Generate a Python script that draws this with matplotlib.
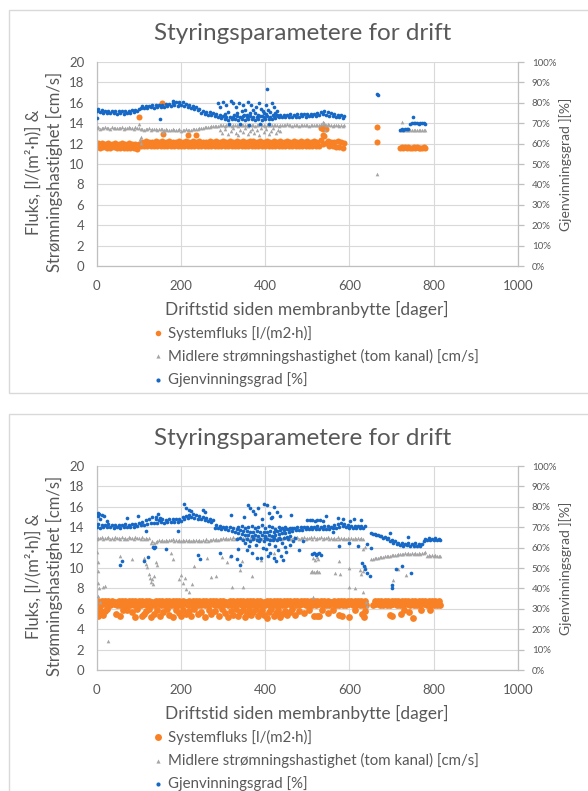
import matplotlib
matplotlib.use("Agg")
import matplotlib.pyplot as plt
from matplotlib.lines import Line2D
from matplotlib.patches import Rectangle
from matplotlib.ticker import PercentFormatter

nan = float("nan")

# ---------------------------------------------------------------- text
TITLE = "Styringsparametere for drift"
XLABEL = "Driftstid siden membranbytte [dager]"
YLABEL_LEFT = "Fluks, [l/(m²·h)] &\nStrømningshastighet [cm/s]"
YLABEL_RIGHT = "Gjenvinningsgrad ][%]"
LEGEND_LABELS = ["Systemfluks [l/(m2·h)]",
                 "Midlere strømningshastighet (tom kanal) [cm/s]",
                 "Gjenvinningsgrad [%]"]
X_TICKS = [0, 200, 400, 600, 800, 1000]
Y_TICKS = [0, 2, 4, 6, 8, 10, 12, 14, 16, 18, 20]
PCT_TICKS = [0, 10, 20, 30, 40, 50, 60, 70, 80, 90, 100]

# ---------------------------------------------------------------- panel 1 data
days1_a = [0, 8, 16, 24, 32, 40, 48, 56, 64, 72,
           80, 88, 96, 104, 112, 120, 128, 136, 144, 152,
           160, 168, 176, 184, 192, 200, 208, 216, 224, 232,
           240, 248, 256, 264, 272, 280, 288, 296, 304, 312,
           320, 328, 336, 344, 352, 360, 368, 376, 384, 392,
           400, 408, 416, 424, 432, 440, 448, 456, 464, 472,
           480, 488, 496, 504, 512, 520, 528, 536, 544, 552,
           560, 568, 576, 584]
days1_b = [4, 12, 20, 28, 36, 44, 52, 60, 68, 76,
           84, 92, 100, 108, 116, 124, 132, 140, 148, 156,
           164, 172, 180, 188, 196, 204, 212, 220, 228, 236,
           244, 252, 260, 268, 276, 284, 292, 300, 308, 316,
           324, 332, 340, 348, 356, 364, 372, 380, 388, 396,
           404, 412, 420, 428, 436, 444, 452, 460, 468, 476,
           484, 492, 500, 508, 516, 524, 532, 540, 548, 556,
           564, 572, 580, 588]
days1_late = [720, 724, 728, 732, 736, 740, 744, 748, 752, 756,
              760, 764, 768, 772, 776, 780]

flux1_a = [11.62, 11.58, 11.66, 11.60, 11.57, 11.63, 11.59, 11.55, 11.61, 11.57,
           11.53, 11.58, 11.50, 11.78, 11.74, 11.80, 11.76, 11.72, 11.79, 11.75,
           11.81, 11.77, 11.73, 11.80, 11.76, 11.74, 11.79, 11.75, 11.72, 11.78,
           11.80, 11.76, 11.73, 11.79, 11.75, 11.77, 11.74, 11.80, 11.76, 11.72,
           11.78, 11.75, 11.81, 11.77, 11.73, 11.79, 11.76, 11.74, 11.80, 11.75,
           11.72, 11.78, 11.76, 11.81, 11.74, 11.77, 11.73, 11.79, 11.75, 11.72,
           11.78, 11.76, 11.80, 11.74, 11.77, 11.73, 11.79, 11.95, 12.05, 11.76,
           11.74, 11.70, 11.66, 11.58]
flux1_b = [12.02, 12.06, 11.98, 12.04, 12.00, 12.05, 11.97, 12.03, 11.99, 12.01,
           11.96, 11.98, 11.93, 12.18, 12.22, 12.15, 12.20, 12.24, 12.17, 12.21,
           12.19, 12.23, 12.16, 12.20, 12.25, 12.18, 12.22, 12.15, 12.21, 12.19,
           12.24, 12.17, 12.20, 12.23, 12.16, 12.22, 12.19, 12.25, 12.18, 12.21,
           12.17, 12.23, 12.20, 12.26, 12.18, 12.21, 12.24, 12.16, 12.22, 12.19,
           12.25, 12.18, 12.21, 12.16, 12.23, 12.20, 12.24, 12.17, 12.22, 12.19,
           12.21, 12.16, 12.23, 12.19, 12.24, 12.18, 12.40, 12.75, 12.30, 12.20,
           12.18, 12.22, 12.15, 12.05]
flux1_late = [11.58, 11.64, 11.55, 11.62, 11.57, 11.66, 11.60, 11.54, 11.63, 11.58,
              11.65, 11.56, 11.61, 11.59, 11.64, 11.57]
flux1_other = [(100, 14.6), (155, 15.95), (157, 12.9), (216, 12.85), (236, 12.8),
               (532, 13.55), (536, 13.4), (540, 13.6), (544, 13.45), (538, 12.85),
               (666, 13.6), (666, 12.2)]

vel1_a = [13.52, 13.48, 13.55, 13.50, 13.46, 13.53, 13.49, 13.51, 13.47, 13.54,
          13.50, 13.46, 13.52, 13.42, 13.38, 13.41, 13.36, 13.40, 13.37, 13.39,
          13.33, 13.30, 13.34, 13.29, 13.32, 13.28, 13.31, 13.33, 13.36, 13.40,
          13.46, 13.52, 13.58, 13.63, 13.68, 13.72, 13.74, 13.78, 13.75, 13.79,
          13.76, 13.80, 13.77, 13.81, 13.78, 13.75, 13.80, 13.77, 13.82, 13.79,
          13.76, 13.81, 13.78, 13.80, 13.76, 13.79, 13.82, 13.78, 13.75, 13.80,
          13.77, 13.81, 13.78, 13.76, 13.80, 13.78, 13.82, 13.90, 13.85, 13.79,
          13.77, 13.80, 13.76, 13.74]
vel1_b = [13.58, 13.55, 13.60, 13.56, 13.59, 13.54, 13.57, 13.60, 13.55, 13.58,
          13.56, 13.59, 13.54, 13.48, 13.45, 13.49, 13.46, 13.44, 13.48, 13.45,
          13.40, 13.38, 13.41, 13.37, 13.39, 13.36, 13.40, 13.38, 13.42, 13.46,
          13.50, 13.56, 13.62, 13.67, 13.71, 13.76, 13.80, 13.83, 13.81, 13.85,
          13.82, 13.86, 13.83, 13.87, 13.84, 13.81, 13.86, 13.83, 13.88, 13.85,
          13.83, 13.87, 13.84, 13.86, 13.82, 13.85, 13.88, 13.84, 13.81, 13.86,
          13.83, 13.87, 13.84, 13.82, 13.86, 13.84, 13.95, 14.00, 13.88, 13.85,
          13.83, 13.86, 13.82, 13.80]
vel1_late = [13.32, 13.36, 13.30, 13.38, 13.34, 13.31, 13.37, 13.33, 13.35, 13.30,
             13.36, 13.32, 13.38, 13.34, 13.31, 13.35]
vel1_other = [(100, 13.95), (102, 12.45), (104, 12.10), (106, 12.6), (157, 13.1),
              (292, 13.3), (298, 13.0), (305, 13.45), (311, 12.9), (318, 13.2),
              (324, 13.5), (330, 13.05), (336, 12.85), (341, 13.35), (347, 13.15),
              (352, 13.55), (358, 12.95), (363, 13.25), (369, 13.45), (374, 13.0),
              (380, 13.3), (386, 12.8), (391, 13.5), (397, 13.1), (402, 13.4),
              (408, 12.9), (414, 13.25), (419, 13.55), (425, 13.0), (430, 13.35),
              (436, 13.2), (538, 14.15), (542, 13.3), (666, 9.0), (724, 14.1)]

rec1_a = [75.8, 75.5, 75.2, 75.0, 74.9, 74.8, 74.7, 74.8, 74.7, 74.9,
          75.2, 75.6, 76.0, 77.4, 77.6, 77.5, 77.7, 77.6, 77.8, 77.7,
          78.0, 78.3, 78.6, 78.9, 78.5, 78.8, 78.4, 78.0, 77.5, 77.0,
          76.5, 74.8, 74.5, 74.2, 73.8, 73.5, 73.0, 72.4, 72.0, 71.8,
          71.9, 72.1, 71.7, 72.0, 71.8, 72.2, 71.9, 71.6, 72.0, 71.8,
          72.1, 71.9, 72.3, 72.6, 72.8, 73.0, 72.9, 73.1, 73.0, 73.2,
          73.1, 73.3, 73.2, 73.4, 73.3, 73.5, 74.0, 74.5, 74.2, 73.6,
          73.3, 73.0, 72.8, 72.5]
rec1_b = [76.8, 76.5, 76.2, 76.0, 75.9, 75.8, 75.8, 75.9, 75.8, 76.0,
          76.3, 76.7, 77.0, 78.4, 78.6, 78.5, 78.7, 78.8, 79.0, 78.9,
          79.3, 79.6, 80.0, 80.3, 79.9, 80.2, 79.6, 79.1, 78.6, 78.0,
          77.2, 76.0, 75.6, 75.3, 75.0, 74.6, 74.2, 73.6, 73.2, 73.0,
          73.2, 73.4, 73.0, 73.3, 73.1, 73.5, 73.2, 72.9, 73.3, 73.1,
          73.4, 73.2, 73.6, 73.9, 74.0, 74.2, 74.1, 74.3, 74.2, 74.4,
          74.3, 74.5, 74.4, 74.6, 74.5, 74.8, 75.3, 75.8, 75.4, 74.8,
          74.4, 74.1, 73.8, 73.4]
rec1_late = [66.8, 67.0, 66.7, 67.2, 67.0, 67.4, 69.8, 70.1, 69.9, 70.2,
             70.0, 69.8, 70.1, 69.9, 70.0, 69.7]
rec1_other = [(0, 72.5), (151, 72.0), (180, 80.8), (196, 80.6), (288, 79.8),
              (292, 78.0), (300, 80.5), (304, 74.5), (308, 79.0), (312, 75.5),
              (315, 69.5), (319, 81.0), (323, 79.8), (327, 74.0), (331, 78.0),
              (333, 75.0), (337, 80.0), (340, 69.8), (344, 75.8), (347, 78.8),
              (350, 74.2), (353, 76.5), (356, 73.8), (359, 80.5), (362, 69.0),
              (365, 75.0), (367, 79.0), (371, 76.5), (375, 74.8), (379, 78.0),
              (382, 74.0), (385, 80.0), (388, 69.5), (391, 77.2), (393, 73.6),
              (395, 75.8), (398, 75.2), (401, 79.0), (403, 74.6), (405, 87.0),
              (407, 76.5), (410, 69.8), (412, 75.4), (415, 79.8), (418, 73.9),
              (421, 78.0), (424, 74.8), (427, 75.8), (430, 73.7), (666, 84.5),
              (668, 84.0), (750, 72.8)]

# ---------------------------------------------------------------- panel 2 data
days2_a = [0, 8, 16, 24, 32, 40, 48, 56, 64, 72,
           80, 88, 96, 104, 112, 120, 128, 136, 144, 152,
           160, 168, 176, 184, 192, 200, 208, 216, 224, 232,
           240, 248, 256, 264, 272, 280, 288, 296, 304, 312,
           320, 328, 336, 344, 352, 360, 368, 376, 384, 392,
           400, 408, 416, 424, 432, 440, 448, 456, 464, 472,
           480, 488, 496, 504, 512, 520, 528, 536, 544, 552,
           560, 568, 576, 584, 592, 600, 608, 616, 624, 632,
           640, 648, 656, 664, 672, 680, 688, 696, 704, 712,
           720, 728, 736, 744, 752, 760, 768, 776, 784, 792,
           800, 808, 816]
days2_b = [4, 12, 20, 28, 36, 44, 52, 60, 68, 76,
           84, 92, 100, 108, 116, 124, 132, 140, 148, 156,
           164, 172, 180, 188, 196, 204, 212, 220, 228, 236,
           244, 252, 260, 268, 276, 284, 292, 300, 308, 316,
           324, 332, 340, 348, 356, 364, 372, 380, 388, 396,
           404, 412, 420, 428, 436, 444, 452, 460, 468, 476,
           484, 492, 500, 508, 516, 524, 532, 540, 548, 556,
           564, 572, 580, 588, 596, 604, 612, 620, 628, 636,
           644, 652, 660, 668, 676, 684, 692, 700, 708, 716,
           724, 732, 740, 748, 756, 764, 772, 780, 788, 796,
           804, 812]

flux2_a = [6.42, 6.38, 6.45, 6.40, 6.36, 6.44, 6.39, 6.41, 6.37, 6.43,
           6.40, 6.35, 6.42, 6.38, 6.44, 6.36, 6.41, 6.39, 6.43, 6.37,
           6.40, 6.45, 6.38, 6.42, 6.36, 6.41, 6.44, 6.39, 6.37, 6.43,
           6.40, 6.36, 6.42, 6.38, 6.45, 6.39, 6.41, 6.37, 6.43, 6.35,
           6.41, 6.38, 6.44, 6.36, 6.40, 6.42, 6.37, 6.43, 6.39, 6.35,
           6.41, 6.38, 6.44, 6.40, 6.36, 6.42, 6.39, 6.43, 6.37, 6.41,
           6.38, 6.44, 6.40, 6.36, 6.42, 6.39, 6.43, 6.37, 6.41, 6.38,
           6.44, 6.40, 6.36, 6.42, 6.39, 6.43, 6.37, 6.41, 6.38, 6.35,
           6.40, nan, 6.38, 6.44, 6.40, 6.36, 6.42, 6.39, 6.43, 6.37,
           6.41, 6.38, 6.44, 6.40, 6.36, 6.42, 6.39, 6.43, 6.37, 6.41,
           6.38, 6.42, 6.36]
flux2_b = [6.78, 6.72, 6.80, 6.74, 6.77, 6.71, 6.79, 6.75, 6.73, 6.78,
           6.74, 6.80, 6.72, 6.77, 6.75, 6.79, 6.71, 6.76, 6.78, 6.73,
           6.77, 6.74, 6.80, 6.72, 6.78, 6.75, 6.71, 6.79, 6.74, 6.76,
           6.73, 6.78, 6.75, 6.80, 6.72, 6.77, 6.74, 6.79, 6.71, 6.76,
           6.78, 6.73, 6.77, 6.75, 6.80, 6.72, 6.76, 6.79, 6.74, 6.71,
           6.77, 6.75, 6.80, 6.73, 6.78, 6.72, 6.76, 6.79, 6.74, 6.77,
           6.73, 6.78, 6.75, 6.80, 6.72, 6.77, 6.74, 6.79, 6.75, 6.71,
           6.78, 6.74, 6.77, 6.72, 6.79, 6.75, 6.73, 6.78, 6.74, 6.76,
           nan, nan, 6.72, 6.78, 6.74, 6.80, 6.75, 6.77, 6.73, 6.79,
           6.75, 6.72, 6.78, 6.74, 6.80, 6.76, 6.73, 6.79, 6.75, 6.77,
           6.74, 6.78]
flux2_other = [(3, 5.25), (5, 5.6), (8, 5.9), (14, 5.4), (20, 5.8), (25, 6.0),
               (45, 5.5), (55, 5.3), (62, 5.85), (72, 5.9), (83, 5.65), (90, 5.2),
               (96, 5.95), (108, 5.3), (113, 5.5), (118, 5.8), (124, 6.0), (130, 5.2),
               (136, 5.45), (142, 5.9), (150, 5.3), (158, 5.7), (166, 5.95), (172, 5.4),
               (180, 5.2), (188, 5.85), (195, 5.6), (200, 5.3), (206, 5.9), (212, 5.5),
               (218, 5.75), (224, 5.25), (232, 5.95), (240, 5.45), (248, 5.7), (256, 5.2),
               (266, 5.9), (272, 5.5), (280, 5.8), (290, 5.3), (297, 5.95), (305, 5.6),
               (312, 5.2), (318, 5.75), (324, 5.4), (330, 5.95), (336, 5.3), (341, 5.65),
               (347, 5.85), (352, 5.2), (357, 5.5), (362, 5.9), (367, 5.35), (372, 5.7),
               (378, 6.0), (383, 5.25), (388, 5.55), (393, 5.85), (398, 5.4), (404, 5.1),
               (409, 5.7), (414, 5.95), (420, 5.3), (425, 5.6), (430, 5.85), (436, 5.2),
               (441, 5.5), (447, 5.8), (452, 5.35), (458, 5.65), (464, 5.95), (470, 5.4),
               (480, 5.8), (492, 5.55), (505, 5.9), (515, 5.3), (522, 5.25), (528, 5.3),
               (535, 5.85), (548, 5.6), (560, 5.9), (576, 5.4), (582, 5.3), (600, 5.2),
               (612, 5.9), (630, 5.5), (634, 5.2), (638, 5.8), (696, 5.4), (700, 5.3),
               (722, 5.45), (730, 5.85), (742, 5.7), (750, 5.1), (770, 5.9), (790, 5.85)]

vel2_a = [12.85, 12.90, 12.86, 12.92, 12.88, 12.84, 12.91, 12.87, 12.89, 12.85,
          12.90, 12.86, 12.92, 12.84, 12.88, 12.82, 12.50, 12.45, 12.62, 12.65,
          12.68, 12.64, 12.70, 12.66, 12.62, 12.69, 12.65, 12.61, 12.67, 12.63,
          12.66, 12.62, 12.68, 12.64, 12.70, 12.72, 12.76, 12.80, 12.84, 12.86,
          12.88, 12.85, 12.90, 12.87, 12.92, 12.86, 12.89, 12.91, 12.85, 12.88,
          12.92, 12.87, 12.90, 12.86, 12.91, 12.88, 12.93, 12.85, 12.89, 12.92,
          12.87, 12.90, 12.86, 12.91, 12.88, 12.85, 12.90, 12.87, 12.92, 12.86,
          12.84, 12.88, 12.82, 12.86, 12.83, 12.87, 12.81, 12.85, 12.82, 12.80,
          nan, nan, 10.92, 10.98, 11.05, 11.10, 11.16, 11.22, 11.28, 11.32,
          11.35, 11.38, 11.36, 11.40, 11.37, 11.42, 11.39, 11.45, 11.20, 11.15,
          11.18, 11.14, 11.16]
vel2_b = [12.98, 13.02, 12.97, 13.03, 12.99, 13.01, 12.96, 13.02, 12.98, 13.00,
          12.97, 13.03, 12.99, 13.01, 12.96, 12.98, 12.60, 12.58, 12.74, 12.76,
          12.79, 12.75, 12.80, 12.77, 12.74, 12.78, 12.76, 12.73, 12.79, 12.75,
          12.78, 12.74, 12.80, 12.76, 12.82, 12.85, 12.88, 12.92, 12.95, 12.98,
          13.00, 12.97, 13.02, 12.99, 13.03, 12.98, 13.01, 13.04, 12.97, 13.00,
          13.03, 12.99, 13.02, 12.98, 13.04, 13.00, 13.05, 12.97, 13.01, 13.03,
          12.99, 13.02, 12.98, 13.03, 13.00, 12.97, 13.02, 12.99, 13.04, 12.98,
          12.96, 13.00, 12.94, 12.98, 12.95, 12.99, 12.93, 12.97, 12.94, nan,
          nan, 10.85, 10.95, 11.02, 11.08, 11.14, 11.20, 11.26, 11.32, 11.38,
          11.42, 11.46, 11.44, 11.48, 11.45, 11.50, 11.47, 11.52, 11.28, 11.24,
          11.26, 11.22]
vel2_other = [(0, 11.6), (2, 10.6), (3, 9.7), (4, 8.5), (6, 8.0), (3, 7.3), (8, 6.7),
              (14, 8.1), (19, 8.2), (28, 2.8), (55, 11.2), (83, 10.9), (112, 11.0),
              (116, 10.4), (120, 10.1), (124, 9.4), (127, 9.0), (129, 8.6), (131, 8.9),
              (134, 8.4), (136, 9.2), (140, 10.6), (142, 10.3), (176, 11.5), (180, 10.9),
              (195, 8.9), (200, 9.3), (206, 8.5), (210, 9.0), (213, 7.9), (220, 7.6),
              (226, 8.4), (232, 10.2), (262, 11.0), (272, 9.1), (284, 9.2), (298, 11.1),
              (310, 10.6), (316, 11.2), (322, 8.1), (339, 9.8), (346, 10.7), (348, 8.1),
              (368, 9.2), (390, 10.8), (420, 11.5), (508, 9.65), (512, 9.7), (516, 9.6),
              (520, 9.65), (524, 9.7), (528, 9.6), (514, 11.0), (518, 10.8), (522, 11.1),
              (526, 10.9), (514, 7.15), (565, 9.5), (576, 10.7), (578, 9.4), (600, 10.0),
              (600, 8.1), (612, 8.0), (625, 9.8), (628, 9.4), (632, 9.7), (636, 10.2),
              (632, 7.6), (640, 6.7), (642, 6.3), (633, 11.9), (636, 12.1), (704, 8.8),
              (716, 9.9), (735, 9.3)]

rec2_a = [70.2, 69.8, 70.0, 69.9, 70.1, 69.7, 70.0, 69.8, 70.2, 69.9,
          70.1, 70.3, 70.6, 70.9, 71.3, 71.8, 72.0, 72.3, 72.1, 72.4,
          72.3, 72.5, 72.4, 72.7, 72.6, 73.2, 74.0, 74.6, 74.9, 74.5,
          74.2, 73.8, 73.3, 72.9, 72.4, 69.8, 69.4, 69.0, 68.9, 68.6,
          68.2, 67.6, 67.0, 66.5, 66.2, 66.0, 65.8, 66.1, 65.7, 66.0,
          65.8, 66.1, 65.9, 66.3, 66.6, 67.0, 67.4, 67.8, 68.1, 68.4,
          68.6, 68.8, 69.0, 68.9, 69.1, 69.0, 69.2, 69.1, 69.3, 69.2,
          69.4, 69.8, 70.2, 70.4, 70.1, 69.7, 69.6, 69.5, 69.7, 69.4,
          nan, nan, 66.6, 66.0, 65.5, 64.9, 64.3, 63.4, 62.3, 61.6,
          61.3, 61.0, 61.2, 60.8, 61.0, 60.6, 60.9, 63.4, 63.8, 63.6,
          63.8, 63.5, 63.7]
rec2_b = [71.4, 71.1, 71.3, 71.5, 71.2, 71.0, 71.3, 71.1, 71.4, 71.2,
          71.5, 71.8, 72.2, 72.6, 73.4, 74.2, 74.8, 74.0, 73.6, 73.8,
          73.7, 73.9, 74.0, 74.2, 74.1, 74.8, 75.6, 76.2, 76.6, 75.8,
          75.4, 75.0, 74.6, 74.2, 73.6, 71.0, 70.6, 70.3, 70.1, 69.9,
          69.5, 69.0, 68.6, 68.2, 67.9, 67.8, 67.6, 67.9, 67.5, 67.8,
          67.6, 67.9, 67.7, 68.1, 68.4, 68.7, 69.1, 69.4, 69.7, 69.9,
          70.0, 70.2, 70.1, 70.3, 70.2, 70.4, 70.3, 70.5, 70.4, 70.3,
          71.0, 71.6, 72.0, 71.8, 71.3, 70.8, 70.6, 70.5, 70.7, 70.4,
          nan, 67.2, 66.9, 66.3, 65.8, 65.3, 64.7, 63.9, 63.0, 62.4,
          62.2, 62.0, 62.3, 61.9, 62.1, 61.8, 62.0, 64.4, 64.6, 64.3,
          64.5, 64.2]
rec2_other = [(2, 77.0), (4, 75.5), (6, 76.5), (9, 74.0), (12, 76.0), (18, 75.5),
              (24, 73.0), (55, 51.5), (60, 53.5), (73, 74.5), (97, 75.5), (113, 53.5),
              (118, 68.0), (121, 55.5), (134, 60.5), (136, 60.0), (138, 60.5), (140, 75.0),
              (146, 76.5), (150, 74.5), (164, 59.5), (193, 68.0), (207, 81.5), (212, 79.5),
              (218, 78.5), (225, 78.0), (240, 56.5), (246, 54.5), (252, 78.5), (258, 77.5),
              (292, 57.5), (318, 56.0), (318, 76.0), (333, 54.5), (335, 59.5), (340, 51.5),
              (349, 75.0), (352, 62.5), (356, 59.0), (360, 81.0), (362, 61.0), (365, 79.5),
              (368, 57.5), (370, 78.0), (372, 64.0), (375, 76.5), (378, 61.5), (380, 55.0),
              (384, 79.5), (386, 63.0), (389, 55.0), (392, 74.0), (395, 60.0), (398, 81.5),
              (400, 64.5), (402, 59.5), (404, 81.0), (406, 56.0), (408, 77.0), (410, 62.0),
              (412, 57.5), (414, 74.5), (416, 75.0), (418, 63.5), (420, 55.0), (422, 80.0),
              (424, 61.0), (426, 53.5), (428, 77.5), (430, 59.0), (432, 64.5), (435, 75.5),
              (438, 56.0), (440, 62.5), (443, 54.0), (446, 60.5), (450, 58.0), (454, 64.0),
              (458, 61.5), (462, 76.0), (466, 63.0), (470, 64.5), (480, 59.0), (490, 63.0),
              (500, 73.5), (506, 73.75), (512, 73.5), (518, 73.25), (524, 73.5), (530, 73.5),
              (536, 73.25), (512, 57.0), (516, 57.5), (520, 56.5), (524, 57.0), (528, 57.5),
              (532, 56.5), (545, 75.5), (560, 67.5), (573, 74.5), (576, 61.0), (585, 74.0),
              (600, 62.5), (602, 73.0), (610, 74.0), (620, 61.0), (628, 73.5), (630, 52.5),
              (634, 51.0), (638, 49.5), (642, 47.5), (642, 62.0), (648, 46.0), (652, 60.0),
              (696, 67.0), (700, 41.5), (702, 40.0), (710, 49.5), (725, 51.0), (740, 65.0),
              (745, 47.5),
              (332, 64.0), (336, 70.0), (340, 64.5), (344, 70.5), (348, 63.5), (352, 69.5),
              (356, 64.0), (360, 70.0), (364, 63.0), (368, 70.5), (372, 64.5), (376, 69.5),
              (380, 63.5), (384, 70.0), (388, 64.0), (392, 71.0), (396, 63.0), (400, 69.5),
              (404, 64.0), (408, 70.5), (412, 63.5), (416, 70.0), (420, 64.5), (424, 69.0),
              (428, 63.5), (432, 70.0), (436, 64.0), (440, 69.5), (444, 64.5), (448, 70.0),
              (452, 65.0), (456, 69.0), (460, 65.5), (464, 69.5)]

# ---------------------------------------------------------------- style
ORANGE = "#F98125"
GRAY = "#A5A5A5"
BLUE = "#1668C6"
TEXT = "#595959"
GRID = "#D9D9D9"
AXIS = "#BFBFBF"
FONT = ["Lato", "DejaVu Sans"]

plt.rcParams["font.family"] = FONT
plt.rcParams["text.color"] = TEXT

W, H = 588, 791
fig = plt.figure(figsize=(W / 100, H / 100), dpi=100)
fig.patch.set_facecolor("white")


def fx(px):
    return px / W


def fy(py):
    return 1 - py / H


def split(pairs):
    return [p[0] for p in pairs], [p[1] for p in pairs]


def draw_panel(off, flux_sets, vel_sets, rec_sets, flux_size, legend_flux_size):
    # outer chart frame
    fig.patches.append(Rectangle((fx(9), fy(393 + off)), fx(600) - fx(9), 383 / H,
                                 transform=fig.transFigure, fill=False,
                                 edgecolor=GRID, linewidth=1.0))
    top, bot = 62 + off, 266 + off
    ax = fig.add_axes([fx(96.7), fy(bot), fx(518) - fx(96.7), (bot - top) / H])
    ax.set_facecolor("none")
    for days, vals in flux_sets:
        ax.scatter(days, vals, s=flux_size, c=ORANGE, marker="o", linewidths=0, zorder=2)
    for days, vals in vel_sets:
        ax.scatter(days, vals, s=7, c=GRAY, marker="^", linewidths=0, zorder=3)
    ax.set_xlim(0, 1000)
    ax.set_ylim(0, 20)
    ax.set_xticks(X_TICKS)
    ax.set_yticks(Y_TICKS)
    ax.grid(True, color=GRID, linewidth=0.8)
    ax.set_axisbelow(True)
    for side in ("top", "right"):
        ax.spines[side].set_visible(False)
    for side in ("left", "bottom"):
        ax.spines[side].set_color(AXIS)
        ax.spines[side].set_linewidth(0.9)
    ax.tick_params(axis="both", length=0, labelsize=9.5, labelcolor=TEXT)
    ax.tick_params(axis="x", pad=10)
    ax.tick_params(axis="y", pad=9)

    ax2 = ax.twinx()
    for days, vals in rec_sets:
        ax2.scatter(days, vals, s=7, c=BLUE, marker="o", linewidths=0, zorder=4)
    ax2.set_xlim(0, 1000)
    ax2.set_ylim(0, 100)
    ax2.set_yticks(PCT_TICKS)
    ax2.yaxis.set_major_formatter(PercentFormatter(100, decimals=0))
    for side in ("top", "left", "bottom"):
        ax2.spines[side].set_visible(False)
    ax2.spines["right"].set_color(AXIS)
    ax2.spines["right"].set_linewidth(0.9)
    ax2.tick_params(axis="y", length=4, color=AXIS, width=0.9, direction="out",
                    labelsize=7, labelcolor=TEXT, pad=6)

    fig.text(fx(303), fy(34 + off), TITLE, ha="center", va="center", fontsize=17.5)
    fig.text(fx(307), fy(309 + off), XLABEL, ha="center", va="center", fontsize=12.5)
    fig.text(fx(44), fy(172 + off), YLABEL_LEFT, ha="center", va="center",
             rotation=90, fontsize=12, linespacing=1.3, multialignment="center")
    fig.text(fx(566), fy(164 + off), YLABEL_RIGHT, ha="center", va="center",
             rotation=90, fontsize=10)

    markers = [("o", ORANGE, legend_flux_size), ("^", GRAY, 3.0), ("o", BLUE, 3.0)]
    for (mk, col, ms), lab, ly in zip(markers, LEGEND_LABELS, (333, 356.5, 380)):
        fig.add_artist(Line2D([fx(158)], [fy(ly + off)], marker=mk, color=col,
                              markersize=ms, markeredgewidth=0, linestyle="none",
                              transform=fig.transFigure))
        fig.text(fx(168), fy(ly + off), lab, ha="left", va="center", fontsize=10.8)


draw_panel(0,
           [(days1_a, flux1_a), (days1_b, flux1_b), (days1_late, flux1_late), split(flux1_other)],
           [(days1_a, vel1_a), (days1_b, vel1_b), (days1_late, vel1_late), split(vel1_other)],
           [(days1_a, rec1_a), (days1_b, rec1_b), (days1_late, rec1_late), split(rec1_other)],
           flux_size=19, legend_flux_size=4.0)

draw_panel(404,
           [(days2_a, flux2_a), (days2_b, flux2_b), split(flux2_other)],
           [(days2_a, vel2_a), (days2_b, vel2_b), split(vel2_other)],
           [(days2_a, rec2_a), (days2_b, rec2_b), split(rec2_other)],
           flux_size=24, legend_flux_size=5.0)

fig.savefig("out.png", dpi=100, facecolor="white")
